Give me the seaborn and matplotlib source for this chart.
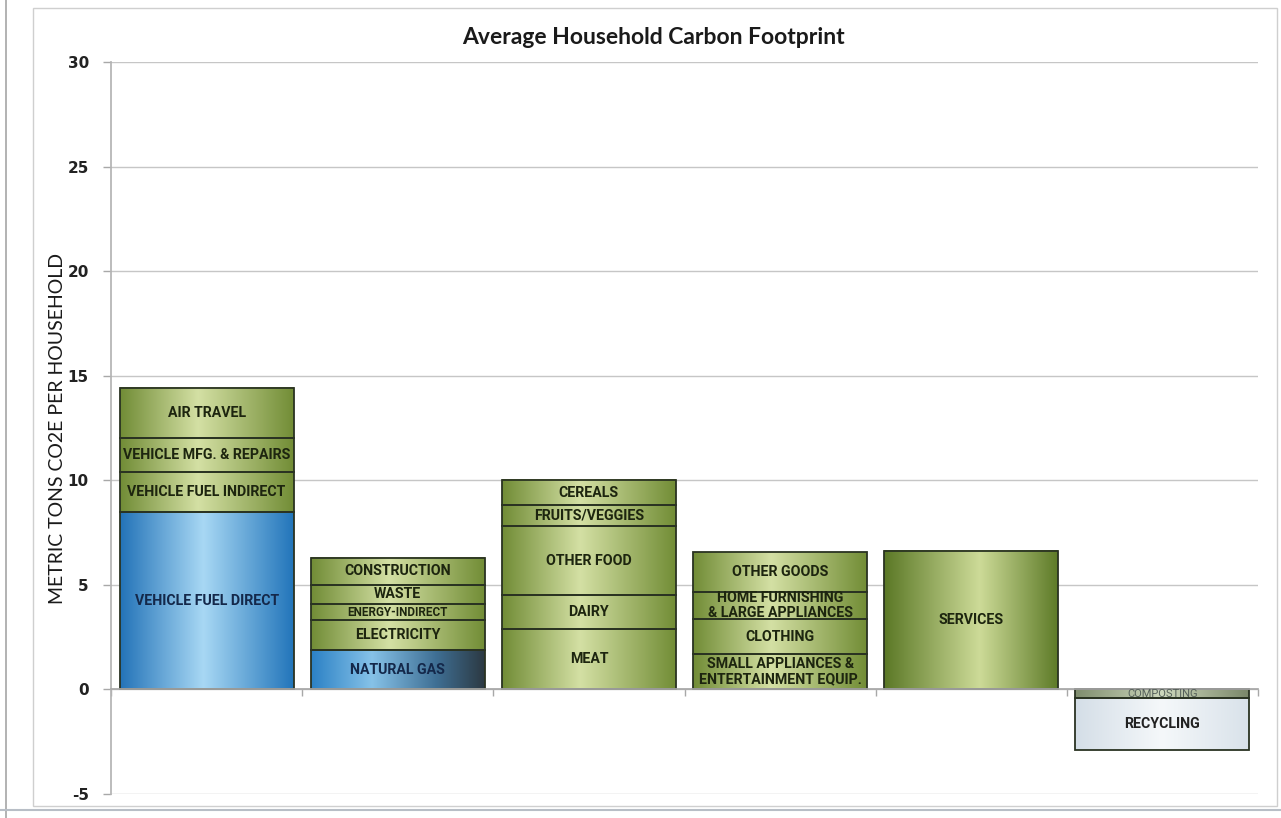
import numpy as np
import pandas as pd
import matplotlib
matplotlib.use("Agg")
import matplotlib.pyplot as plt
import seaborn as sns
from matplotlib.colors import to_rgb
from matplotlib.patches import Rectangle
from matplotlib.lines import Line2D

# ---- data (metric tons CO2e per household), segments listed bottom to top ----
categories = ["Transportation", "Housing", "Food", "Goods", "Services", "Waste"]

transport_labels = ["VEHICLE FUEL DIRECT", "VEHICLE FUEL INDIRECT", "VEHICLE MFG. & REPAIRS", "AIR TRAVEL"]
transport_values = [8.5, 1.9, 1.6, 2.4]

housing_labels = ["NATURAL GAS", "ELECTRICITY", "ENERGY-INDIRECT", "WASTE", "CONSTRUCTION"]
housing_values = [1.9, 1.4, 0.8, 0.9, 1.3]

food_labels = ["MEAT", "DAIRY", "OTHER FOOD", "FRUITS/VEGGIES", "CEREALS"]
food_values = [2.9, 1.6, 3.3, 1.0, 1.2]

goods_labels = ["SMALL APPLIANCES &\nENTERTAINMENT EQUIP.", "CLOTHING",
                "HOME FURNISHING\n& LARGE APPLIANCES", "OTHER GOODS"]
goods_values = [1.7, 1.65, 1.3, 1.9]

services_labels = ["SERVICES"]
services_values = [6.6]

waste_labels = ["COMPOSTING", "RECYCLING"]
waste_values = [-0.4, -2.5]

y_ticks = [-5, 0, 5, 10, 15, 20, 25, 30]

title = "Average Household Carbon Footprint"
y_title = "METRIC TONS CO2E PER HOUSEHOLD"

# ---- long table of stacked segments ----
groups = [
    (transport_labels, transport_values),
    (housing_labels, housing_values),
    (food_labels, food_values),
    (goods_labels, goods_values),
    (services_labels, services_values),
    (waste_labels, waste_values),
]
rows = []
for ci, (cat, (labels, values)) in enumerate(zip(categories, groups)):
    base = 0.0
    for lvl, (lab, val) in enumerate(zip(labels, values)):
        rows.append(dict(category=cat, cat_idx=ci, level=lvl, label=lab,
                         value=val, bottom=base))
        base += val
seg = pd.DataFrame(rows)

# ---- gradient fills ----
GRADIENTS = {
    "green": ([0, 0.45, 1], ["#718c36", "#d4e0a4", "#728d36"]),
    "services": ([0, 0.55, 1], ["#5b7826", "#cddb98", "#5e7b28"]),
    "blue": ([0, 0.48, 1], ["#2373b8", "#a8d8f4", "#2275ba"]),
    "gas": ([0, 0.35, 0.72, 1], ["#2b81c5", "#86c2e8", "#3f6f94", "#2c3942"]),
    "light": ([0, 0.5, 1], ["#d4dee7", "#f5f8fa", "#d9e2ea"]),
    "compost": ([0, 0.5, 1], ["#7f8d6e", "#cdd8bc", "#7a8769"]),
}
FILL_OF = {
    "VEHICLE FUEL DIRECT": "blue",
    "NATURAL GAS": "gas",
    "RECYCLING": "light",
    "COMPOSTING": "compost",
    "SERVICES": "services",
}
TEXT_COLOR = {"blue": "#14284a", "gas": "#14284a", "light": "#222222"}


def gradient_fill(ax, patch, kind):
    pos, cols = GRADIENTS[kind]
    t = np.linspace(0, 1, 300)
    rgb = np.array([to_rgb(c) for c in cols])
    img = np.stack([np.interp(t, pos, rgb[:, i]) for i in range(3)], axis=-1)[np.newaxis]
    x0, y0 = patch.get_x(), patch.get_y()
    w, h = patch.get_width(), patch.get_height()
    ax.imshow(img, extent=(x0, x0 + w, min(y0, y0 + h), max(y0, y0 + h)),
              aspect="auto", origin="lower", interpolation="bilinear", zorder=1.5)
    patch.set_facecolor("none")
    patch.set_zorder(2)


# ---- figure ----
sns.set_theme(style="white")
plt.rcParams["font.family"] = ["DejaVu Sans"]

fig = plt.figure(figsize=(12.81, 8.18), dpi=100)
fig.patch.set_facecolor("white")
W, H = 1281, 818
ax = fig.add_axes([111 / W, 1 - 794 / H, (1258 - 111) / W, (794 - 62) / H])

label_font = ["Roboto", "DejaVu Sans"]

for lvl in sorted(seg["level"].unique()):
    sub = seg[seg["level"] == lvl].sort_values("cat_idx")
    sns.barplot(data=sub, x="category", y="value", order=categories,
                bottom=sub["bottom"].to_numpy(), width=0.91, errorbar=None,
                color="#8aa040", saturation=1,
                edgecolor="#2a3322", linewidth=1.3, ax=ax)
    container = ax.containers[-1]
    for patch, (_, r) in zip(container.patches, sub.iterrows()):
        kind = FILL_OF.get(r["label"], "green")
        gradient_fill(ax, patch, kind)
        xc = patch.get_x() + patch.get_width() / 2
        yc = r["bottom"] + r["value"] / 2
        if r["label"] == "COMPOSTING":
            ax.text(xc, yc, r["label"], ha="center", va="center", fontsize=8,
                    family=label_font, color="#55605a", zorder=4)
            continue
        size = 8.5 if r["label"] == "ENERGY-INDIRECT" else 10.2
        ax.text(xc, yc, r["label"], ha="center", va="center", fontsize=size,
                fontweight="bold", family=label_font, linespacing=1.05,
                color=TEXT_COLOR.get(kind, "#1d250f"), zorder=4)

# ---- axes styling ----
ax.set_xlim(-0.5, len(categories) - 0.5)
ax.set_ylim(-5, 30)
ax.set_yticks(y_ticks)
ax.set_yticklabels([str(v) for v in y_ticks], fontsize=11, fontweight="bold",
                   color="#222222")
ax.set_xlabel("")
ax.set_ylabel("")
ax.set_xticks([])
ax.set_xticks(np.arange(-0.5, len(categories)), minor=True)
ax.tick_params(axis="x", which="minor", direction="out", length=5, width=1,
               color="#a8a8a8", labelbottom=False, bottom=True)
ax.tick_params(axis="y", direction="out", length=6, width=1, color="#a8a8a8",
               pad=10, left=True)
ax.grid(axis="y", color="#c6c6c6", linewidth=1)
ax.set_axisbelow(True)
for side in ("top", "right"):
    ax.spines[side].set_visible(False)
ax.spines["left"].set_color("#b4b4b4")
ax.spines["bottom"].set_color("#a8a8a8")
ax.spines["bottom"].set_position(("data", 0))
ax.patch.set_alpha(0)

# ---- titles ----
fig.text(653 / W, 1 - 37 / H, title, ha="center", va="center", fontsize=16.5,
         fontweight="bold", family=["Lato", "DejaVu Sans"], color="#1a1a1a")
fig.text(58 / W, 1 - 428 / H, y_title, ha="center", va="center", rotation=90,
         fontsize=14, family=["Lato", "DejaVu Sans"], color="#1a1a1a")

# ---- chart frame ----
fig.add_artist(Rectangle((33 / W, 1 - 806 / H), (1277 - 33) / W, (806 - 8) / H,
                         transform=fig.transFigure, fill=False,
                         edgecolor="#cfcfcf", linewidth=1))
fig.add_artist(Line2D([6 / W, 6 / W], [0, 1], transform=fig.transFigure,
                      color="#a6a6a6", linewidth=1.2))
fig.add_artist(Line2D([0, 1], [1 - 810 / H, 1 - 810 / H], transform=fig.transFigure,
                      color="#b8bec6", linewidth=1.5))

fig.savefig("out.png", dpi=100, facecolor="white")
